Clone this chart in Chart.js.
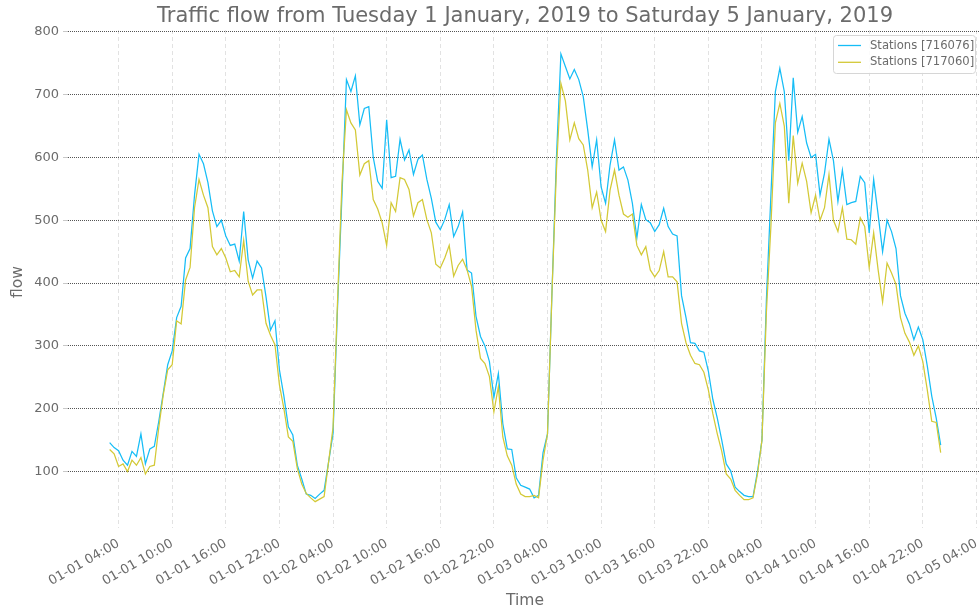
<!DOCTYPE html>
<html>
<head>
<meta charset="utf-8">
<script src="https://cdn.jsdelivr.net/npm/chart.js@4.4.1/dist/chart.umd.min.js"></script>
<style>
  html, body { margin: 0; padding: 0; background: #fff; overflow: hidden; }
  #wrap { width: 980px; height: 615px; position: relative; }
</style>
</head>
<body>
<div id="wrap"><canvas id="flow_Chart" width="980" height="615"></canvas></div>
<script>
// hours since 2019-01-01 00:00, one reading every 30 minutes
const startHour = 3;
const stepHours = 0.5;

const stationNames = ['Stations [716076]', 'Stations [717060]'];

// Stations [716076]
const flow716076 = [
  146, 138, 133, 118, 110, 132, 124, 160, 112, 136, 140, 180,            // 03:00 - 08:30
  225, 270, 292, 345, 363, 440, 455, 540, 605, 590, 560, 515,            // 09:00 - 14:30
  490, 500, 475, 460, 462, 435, 514, 437, 408, 435, 424, 378,            // 15:00 - 20:30
  325, 340, 262, 220, 171, 158, 110, 88, 64, 62, 57, 64,                 // 21:00 - 02:30
  70, 115, 160, 360, 540, 724, 705, 730, 652, 678, 681, 600,             // 03:00 - 08:30
  562, 551, 660, 568, 570, 629, 596, 612, 573, 597, 604, 565,            // 09:00 - 14:30
  535, 497, 485, 501, 525, 474, 490, 513, 421, 416, 347, 315,            // 15:00 - 20:30
  300, 275, 218, 256, 176, 136, 135, 90, 78, 75, 72, 58,                 // 21:00 - 02:30
  62, 130, 160, 385, 600, 765, 745, 725, 740, 724, 697, 644,             // 03:00 - 08:30
  585, 628, 553, 527, 588, 628, 580, 585, 564, 527, 472, 525,            // 09:00 - 14:30
  501, 496, 482, 493, 519, 490, 478, 475, 380, 345, 305, 304,            // 15:00 - 20:30
  292, 290, 260, 215, 185, 150, 112, 101, 75, 68, 62, 60,                // 21:00 - 02:30
  60, 100, 150, 375, 540, 705, 742, 705, 595, 727, 640, 665,             // 03:00 - 08:30
  623, 600, 605, 540, 575, 629, 595, 530, 580, 525, 528, 530,            // 09:00 - 14:30
  570, 560, 480, 565, 509, 450, 500, 482, 455, 380, 352, 335,            // 15:00 - 20:30
  310, 330, 310, 268, 220, 185, 142                                      // 21:00 - 00:00
];

// Stations [717060]
const flow717060 = [
  135, 128, 108, 112, 100, 118, 110, 122, 96, 108, 110, 170,
  222, 262, 270, 340, 335, 405, 425, 520, 565, 540, 520, 458,
  445, 455, 440, 418, 420, 410, 468, 403, 381, 389, 389, 336,
  317, 302, 238, 200, 155, 148, 105, 80, 65, 58, 52, 56,
  60, 115, 170, 370, 560, 676, 655, 644, 572, 590, 595, 533,
  518, 496, 460, 528, 514, 568, 565, 549, 507, 528, 533, 501,
  480, 430, 424, 440, 460, 411, 428, 438, 421, 395, 325, 280,
  272, 251, 195, 235, 155, 125, 110, 80, 64, 60, 60, 62,
  58, 118, 160, 385, 580, 718, 690, 628, 655, 630, 620, 580,
  520, 545, 500, 482, 548, 580, 540, 510, 505, 510, 460, 445,
  458, 421, 410, 420, 450, 410, 410, 402, 336, 305, 285, 272,
  270, 258, 230, 192, 160, 132, 96, 88, 70, 62, 55, 55,
  58, 96, 150, 355, 490, 655, 686, 650, 527, 635, 559, 591,
  562, 512, 540, 500, 520, 573, 500, 482, 520, 470, 469, 462,
  504, 490, 425, 480, 421, 370, 432, 416, 398, 345, 320, 306,
  285, 300, 275, 230, 180, 178, 130
];

const xTickHours = [4, 10, 16, 22, 28, 34, 40, 46, 52, 58, 64, 70, 76, 82, 88, 94, 100];
const yTickValues = [100, 200, 300, 400, 500, 600, 700, 800];

const lineColors = ['#16bdf6', '#d3c936'];
const textColor = '#6b6b6b';
const fontName = '"DejaVu Sans", sans-serif';

function toPoints(values) {
    return values.map((v, i) => ({ x: startHour + i * stepHours, y: v }));
}

function hourLabel(h) {
    let day = 1 + Math.floor(h / 24);
    let hh = h % 24;
    return '01-0' + day + ' ' + String(hh).padStart(2, '0') + ':00';
}

// title, axis names and the boxed legend inside the plot
const decorations = {
    id: 'decorations',
    afterDraw(chart) {
        const ctx = chart.ctx;
        ctx.save();
        ctx.fillStyle = textColor;
        ctx.textAlign = 'center';
        ctx.textBaseline = 'middle';
        ctx.font = '21px ' + fontName;
        ctx.fillText('Traffic flow from Tuesday 1 January, 2019 to Saturday 5 January, 2019', 525, 17);
        ctx.font = '15.5px ' + fontName;
        ctx.fillText('Time', 525, 601);
        ctx.translate(18, 282);
        ctx.rotate(-Math.PI / 2);
        ctx.fillText('flow', 0, 0);
        ctx.restore();

        // legend
        ctx.save();
        ctx.fillStyle = 'rgba(255,255,255,0.85)';
        ctx.strokeStyle = '#d6d6d6';
        ctx.lineWidth = 1;
        ctx.beginPath();
        ctx.roundRect(833.5, 35.5, 142, 38, 3);
        ctx.fill();
        ctx.stroke();
        ctx.font = '11.6px ' + fontName;
        ctx.textAlign = 'left';
        ctx.textBaseline = 'middle';
        stationNames.forEach((name, i) => {
            let y = 45.5 + i * 16.8;
            ctx.strokeStyle = lineColors[i];
            ctx.lineWidth = 1.3;
            ctx.beginPath();
            ctx.moveTo(838, y);
            ctx.lineTo(861, y);
            ctx.stroke();
            ctx.fillStyle = textColor;
            ctx.fillText(name, 870, y);
        });
        ctx.restore();
    }
};

const flow_Chart = document.querySelector('#flow_Chart');

new Chart(flow_Chart, {
    type: 'line',
    data: {
        datasets: [{
            label: stationNames[0],
            data: toPoints(flow716076),
            borderColor: lineColors[0],
            borderWidth: 1.25,
            pointRadius: 0,
            order: 1
        }, {
            label: stationNames[1],
            data: toPoints(flow717060),
            borderColor: lineColors[1],
            borderWidth: 1.25,
            pointRadius: 0,
            order: 0
        }]
    },
    options: {
        responsive: false,
        animation: false,
        layout: { padding: { top: 30, right: 0, left: 0, bottom: 0 } },
        plugins: {
            legend: { display: false },
            title: { display: false },
            tooltip: { enabled: false }
        },
        scales: {
            x: {
                type: 'linear',
                min: -1.66,
                max: 100.4,
                afterBuildTicks: scale => { scale.ticks = xTickHours.map(v => ({ value: v })); },
                afterFit: scale => {
                    scale.height = 87;
                    scale.paddingLeft = 0;
                    scale.paddingRight = 0;
                },
                border: { display: false, dash: [4, 3] },
                grid: {
                    color: '#e2e2e2',
                    drawTicks: false
                },
                ticks: {
                    autoSkip: false,
                    minRotation: 30,
                    maxRotation: 30,
                    padding: 8,
                    color: textColor,
                    font: { family: fontName, size: 13 },
                    callback: value => hourLabel(value)
                }
            },
            y: {
                min: 10,
                max: 803,
                afterBuildTicks: scale => { scale.ticks = yTickValues.map(v => ({ value: v })); },
                afterFit: scale => { scale.width = 68; },
                border: { display: false, dash: [1, 1] },
                grid: {
                    color: '#555555',
                    tickColor: '#c8c8c8',
                    tickLength: 5,
                    tickBorderDash: [],
                    drawTicks: true
                },
                ticks: {
                    padding: 4,
                    color: textColor,
                    font: { family: fontName, size: 13 }
                }
            }
        }
    },
    plugins: [decorations]
});
</script>
</body>
</html>
